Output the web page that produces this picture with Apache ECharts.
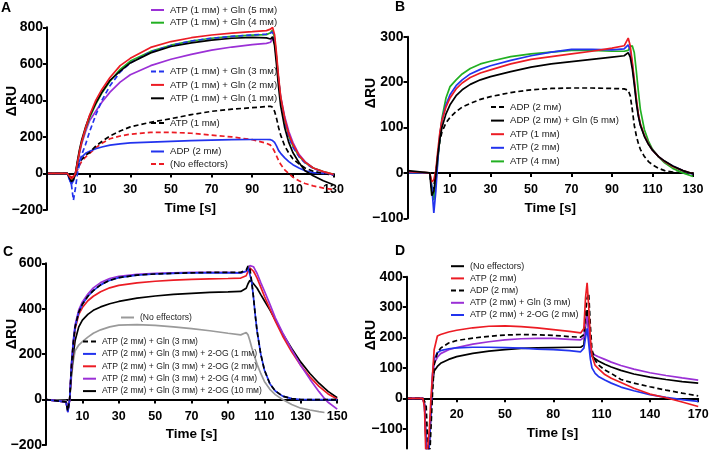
<!DOCTYPE html>
<html><head><meta charset="utf-8">
<script src="https://cdn.jsdelivr.net/npm/echarts@6/dist/echarts.min.js"></script>
<style>html,body{margin:0;padding:0;background:#fff}#c{width:709px;height:450px}</style>
</head><body><div id="c"></div>
<script>
// ---------- Panel A ----------
const tA = [-11,-1,1,2,3,4,5,6,8,10,13,16,20,25,30,40,50,60,70,80,90,97,99,100,101,102,103,104,106,108,110,113,116,120,125,130];
const A_gln5 = [0,0,-40,-30,0,55,110,160,230,290,340,390,445,500,540,590,625,652,675,692,705,712,718,740,720,620,510,420,310,230,170,105,65,30,8,-8];
const A_gln4 = [0,0,-40,-30,0,60,120,170,245,305,380,440,505,570,615,668,702,725,740,750,757,760,770,785,740,630,510,410,290,205,150,95,60,30,10,-5];
const A_gln3 = [0,0,-60,-146,-80,0,50,100,160,230,320,400,480,555,605,665,700,725,740,750,758,763,768,775,735,625,505,405,285,200,145,92,58,28,8,-8];
const A_gln2 = [0,0,-30,-20,0,60,120,170,250,320,400,460,525,590,630,690,722,743,758,768,776,782,790,800,760,650,525,420,300,215,160,100,62,30,10,-5];
const A_gln1 = [0,0,-45,-35,0,70,130,180,255,315,385,445,510,560,605,660,695,715,730,740,745,742,736,748,700,590,470,370,250,170,115,60,15,-12,-40,-62];
const A_atp1 = [0,0,-30,-20,0,30,55,75,100,115,150,175,205,232,255,280,300,322,340,352,360,366,368,362,340,300,250,210,150,112,80,52,30,12,0,-10];
const A_adp  = [0,0,-60,-40,0,40,70,90,110,122,135,145,155,162,167,172,176,180,183,185,186,186,185,180,170,150,125,110,85,65,48,30,15,5,0,-5];
const A_none = [0,0,-20,-15,-5,20,45,65,90,110,140,165,190,205,215,225,225,220,210,200,185,165,155,140,120,95,70,50,20,0,-20,-40,-55,-68,-80,-88];
const xTicksA = [10,30,50,70,90,110,130];
const yTicksA = [-200,0,200,400,600,800];

// ---------- Panel B ----------
const tB = [-11,0,1,2,3,4,5,6,8,10,13,16,20,25,30,40,50,60,70,80,90,96,98,99,100,101,102,103,104,106,108,110,113,116,120,125,130];
const B_adp    = [3,0,-40,-30,0,40,70,90,110,122,135,145,153,162,168,177,183,186,187,187,186,185,182,170,140,105,82,65,52,36,25,18,10,5,2,0,-3];
const B_adpgln = [5,0,-50,-40,-5,40,75,100,130,150,170,183,195,205,212,223,233,240,245,250,255,258,265,255,230,195,155,125,105,80,63,50,36,26,15,5,-2];
const B_atp1   = [3,0,-20,-15,5,50,90,115,145,165,185,198,210,220,227,240,250,256,262,268,275,280,297,280,245,205,165,130,108,82,64,50,36,25,14,5,-2];
const B_atp2   = [0,0,-30,-88,-40,30,85,115,150,172,192,205,218,228,236,248,258,266,272,272,271,273,282,270,240,200,160,128,106,82,64,50,36,25,15,5,-3];
const B_atp4   = [0,0,-30,-60,-20,30,80,120,165,190,205,218,230,240,246,256,262,266,270,270,268,268,270,278,280,265,225,180,140,95,70,52,35,22,10,0,-8];
const xTicksB = [10,30,50,70,90,110,130];
const yTicksB = [-100,0,100,200,300];

// ---------- Panel C ----------
const tC = [-10,1,2,3,4,5,6,8,10,13,16,20,25,30,40,50,60,70,80,90,97,100,101,102,103,104,105,106,108,110,113,116,120,125,130,135,140,143,145,150];
const C_gln  = [0,-10,-50,0,150,250,320,385,420,455,480,505,525,537,548,553,556,558,560,560,560,570,588,578,520,450,370,300,200,130,70,38,15,4,0,0,0,0,0,0];
const C_og1  = [0,-10,-55,0,150,250,320,385,420,455,480,505,525,537,548,553,556,558,558,558,558,565,582,575,520,450,370,300,200,130,70,38,15,4,0,0,0,0,0,0];
const C_og2  = [0,-10,-45,0,140,240,310,375,405,435,455,475,492,503,514,521,526,529,531,533,535,545,565,580,575,565,550,535,495,455,400,345,280,210,150,100,58,38,25,3];
const C_og4  = [0,-10,-55,0,160,260,330,395,430,465,492,515,533,543,551,556,558,560,560,560,558,565,575,590,595,585,570,555,515,478,420,360,295,220,150,90,35,5,-12,-42];
const C_og10 = [0,-10,-45,0,120,200,260,320,350,375,393,408,422,432,447,456,463,468,472,474,476,490,510,525,520,510,500,490,462,435,395,350,290,225,165,115,72,50,36,8];
const C_none = [0,-5,-30,0,100,170,215,240,255,275,292,307,320,328,330,327,320,312,303,292,285,295,285,260,230,205,180,155,115,80,45,22,0,-22,-38,-46,-53,-57,null,null];
const xTicksC = [10,30,50,70,90,110,130,150];
const yTicksC = [-200,0,200,400,600];

// ---------- Panel D ----------
const tD = [-11,-1,0,1,2,3,4,5,6,8,10,15,20,30,40,50,60,70,80,90,97,99,100,101,102,103,104,106,108,112,116,122,130,140,150,160,170];
const D_none = [0,0,-20,-150,-220,-150,-40,50,90,105,115,128,137,148,155,160,164,166,167,168,168,175,240,290,230,160,140,130,123,112,103,92,80,70,62,55,50];
const D_atp  = [0,0,-30,-220,-220,-100,0,80,160,205,210,218,224,232,237,238,236,232,226,220,215,230,330,380,300,200,140,108,98,78,66,52,33,14,2,-12,-27];
const D_adp  = [0,0,0,-20,-150,-220,-100,20,110,150,165,182,190,198,204,208,210,209,207,203,201,210,280,330,345,240,160,125,110,93,82,62,50,38,27,17,8];
const D_gln  = [0,0,-20,-150,-220,-150,-40,70,115,135,147,160,167,178,186,192,196,197,197,194,192,200,250,270,210,165,150,142,137,128,119,108,96,84,75,67,60];
const D_og   = [0,0,-20,-150,-220,-150,-40,80,130,150,157,163,166,168,168,167,165,162,160,157,153,165,200,230,180,130,100,82,72,60,50,37,25,12,3,-4,-10];
const xTicksD = [20,50,80,110,140,170];
const yTicksD = [-100,0,100,200,300,400];

// ---------- names ----------
const M = 'm\u1D0D';
const nA = {
  gln5: 'A|ATP (1 '+M+') + Gln (5 '+M+')', gln4: 'A|ATP (1 '+M+') + Gln (4 '+M+')',
  gln3: 'A|ATP (1 '+M+') + Gln (3 '+M+')', gln2: 'A|ATP (1 '+M+') + Gln (2 '+M+')',
  gln1: 'A|ATP (1 '+M+') + Gln (1 '+M+')', atp1: 'A|ATP (1 '+M+')',
  adp: 'A|ADP (2 '+M+')', none: 'A|(No effectors)'
};
const nB = {
  adp: 'B|ADP (2 '+M+')', adpgln: 'B|ADP (2 '+M+') + Gln (5 '+M+')',
  atp1: 'B|ATP (1 '+M+')', atp2: 'B|ATP (2 '+M+')', atp4: 'B|ATP (4 '+M+')'
};
const nC = {
  none: 'C|(No effectors)', gln: 'C|ATP (2 '+M+') + Gln (3 '+M+')',
  og1: 'C|ATP (2 '+M+') + Gln (3 '+M+') + 2-OG (1 '+M+')',
  og2: 'C|ATP (2 '+M+') + Gln (3 '+M+') + 2-OG (2 '+M+')',
  og4: 'C|ATP (2 '+M+') + Gln (3 '+M+') + 2-OG (4 '+M+')',
  og10: 'C|ATP (2 '+M+') + Gln (3 '+M+') + 2-OG (10 '+M+')'
};
const nD = {
  none: 'D|(No effectors)', atp: 'D|ATP (2 '+M+')', adp: 'D|ADP (2 '+M+')',
  gln: 'D|ATP (2 '+M+') + Gln (3 '+M+')', og: 'D|ATP (2 '+M+') + 2-OG (2 '+M+')'
};

const RED = '#ec1c24', BLUE = '#2233ee', PURPLE = '#9b30d6', GREEN = '#22b022', BLACK = '#000000', GRAY = '#9a9a9a';
const FONT = '"Liberation Sans", Arial, "DejaVu Sans", sans-serif';
const YLABEL_SIZE = 14, YLABEL_MARGIN = 4;
const fmtY = v => (v < 0 ? '\u2212' + Math.abs(v) : String(v));

function ser(idx, name, t, v, color, dashed) {
  return {
    type: 'line', name: name, xAxisIndex: idx, yAxisIndex: idx,
    data: t.map((x, i) => [x, v[i]]),
    symbol: 'none', showSymbol: false, silent: true, animation: false, clip: true,
    lineStyle: { color: color, width: 1.7, type: dashed ? [5, 3] : 'solid' },
    itemStyle: { color: color }
  };
}

const grids = [
  { left: 47, top: 27.3, width: 286.5, height: 182.7 },
  { left: 407.5, top: 36.7, width: 285.5, height: 181.6 },
  { left: 46, top: 263.3, width: 291.2, height: 181.7 },
  { left: 406.8, top: 276.7, width: 291.4, height: 171.8 }
].map(g => Object.assign(g, { outerBoundsMode: 'none', containLabel: false }));
const xr = [[-11,130,xTicksA],[-11,130,xTicksB],[-10,150,xTicksC],[-11,170,xTicksD]];
const yr = [[-200,800,yTicksA],[-100,300,yTicksB],[-200,600,yTicksC],[-165,400,yTicksD]];

const axLine = { show: true, onZero: false, lineStyle: { color: '#000', width: 2 } };
const xAxes = xr.map((r, i) => ({
  type: 'value', gridIndex: i, min: r[0], max: r[1],
  position: 'bottom',
  // put the time axis on the zero line of the response axis
  offset: -grids[i].height * (0 - yr[i][0]) / (yr[i][1] - yr[i][0]),
  axisLine: axLine,
  axisTick: { show: true, length: 4, lineStyle: { color: '#000', width: 2 }, customValues: r[2] },
  axisLabel: { customValues: r[2], color: '#000', fontWeight: 'bold', fontSize: 12.5, margin: 10, fontFamily: FONT,
    showMinLabel: true, showMaxLabel: true },
  splitLine: { show: false },
  name: 'Time [s]', nameLocation: 'middle', nameGap: 28,
  nameTextStyle: { color: '#000', fontWeight: 'bold', fontSize: 13.5, fontFamily: FONT }
}));
const yAxes = yr.map((r, i) => ({
  type: 'value', gridIndex: i, min: r[0], max: r[1], z: 20,
  axisLine: axLine,
  axisTick: { show: true, length: 4, lineStyle: { color: '#000', width: 2 }, customValues: r[2] },
  axisLabel: { customValues: r[2], color: '#000', fontWeight: 'bold', fontSize: YLABEL_SIZE, margin: YLABEL_MARGIN,
    fontFamily: FONT, showMinLabel: true, showMaxLabel: true, formatter: fmtY },
  splitLine: { show: false }
}));

function lg(names, left, top, fontSize, gap) {
  return {
    data: names, left: left, top: top, orient: 'vertical', padding: 0,
    itemWidth: 13, itemHeight: 8, itemGap: gap, selectedMode: false,
    itemStyle: { opacity: 0 },
    formatter: n => n.split('|')[1],
    textStyle: { fontSize: fontSize, color: '#222', fontFamily: FONT, padding: [0, 0, 0, 1] }
  };
}

const series = [
  ser(0, nA.none, tA, A_none, RED, true),
  ser(0, nA.adp, tA, A_adp, BLUE, false),
  ser(0, nA.atp1, tA, A_atp1, BLACK, true),
  ser(0, nA.gln5, tA, A_gln5, PURPLE, false),
  ser(0, nA.gln4, tA, A_gln4, GREEN, false),
  ser(0, nA.gln3, tA, A_gln3, BLUE, true),
  ser(0, nA.gln1, tA, A_gln1, BLACK, false),
  ser(0, nA.gln2, tA, A_gln2, RED, false),

  ser(1, nB.adp, tB, B_adp, BLACK, true),
  ser(1, nB.atp4, tB, B_atp4, GREEN, false),
  ser(1, nB.atp2, tB, B_atp2, BLUE, false),
  ser(1, nB.atp1, tB, B_atp1, RED, false),
  ser(1, nB.adpgln, tB, B_adpgln, BLACK, false),

  ser(2, nC.none, tC, C_none, GRAY, false),
  ser(2, nC.og10, tC, C_og10, BLACK, false),
  ser(2, nC.og2, tC, C_og2, RED, false),
  ser(2, nC.og4, tC, C_og4, PURPLE, false),
  ser(2, nC.og1, tC, C_og1, BLUE, false),
  ser(2, nC.gln, tC, C_gln, BLACK, true),

  ser(3, nD.none, tD, D_none, BLACK, false),
  ser(3, nD.gln, tD, D_gln, PURPLE, false),
  ser(3, nD.og, tD, D_og, BLUE, false),
  ser(3, nD.adp, tD, D_adp, BLACK, true),
  ser(3, nD.atp, tD, D_atp, RED, false)
];

const legends = [
  lg([nA.gln5, nA.gln4], 150, 5, 9.6, 2.7),
  lg([nA.gln3, nA.gln2, nA.gln1], 150, 66.5, 9.6, 3.4),
  lg([nA.atp1], 150, 118, 9.6, 3),
  lg([nA.adp, nA.none], 150, 146.5, 9.6, 2.6),
  lg([nB.adp, nB.adpgln, nB.atp1, nB.atp2, nB.atp4], 490, 102, 9.6, 3.6),
  lg([nC.none], 120, 313, 8.6, 3),
  lg([nC.gln, nC.og1, nC.og2, nC.og4, nC.og10], 82, 337, 8.6, 3.4),
  lg([nD.none, nD.atp, nD.adp, nD.gln, nD.og], 450, 261.7, 9, 3.2)
];

function txt(x, y, s, size, rot, align, z) {
  return { type: 'text', x: x, y: y, rotation: rot || 0, silent: true, z: z || 10,
    style: { text: s, fill: '#000', font: 'bold ' + size + 'px ' + FONT, textAlign: align || 'center', textVerticalAlign: 'middle' } };
}

const graphics = [
  txt(6, 8, 'A', 14), txt(400, 7, 'B', 14), txt(8, 252, 'C', 14), txt(400, 251.5, 'D', 14),
  txt(12, 101, '\u0394RU', 14, Math.PI / 2), txt(371, 93, '\u0394RU', 14, Math.PI / 2),
  txt(12, 334, '\u0394RU', 14, Math.PI / 2), txt(371, 335, '\u0394RU', 14, Math.PI / 2)
];

const chart = echarts.init(document.getElementById('c'), null, { renderer: 'canvas' });
chart.setOption({
  animation: false,
  backgroundColor: '#fff',
  textStyle: { fontFamily: FONT },
  grid: grids,
  xAxis: xAxes,
  yAxis: yAxes,
  legend: legends,
  series: series,
  graphic: graphics
});

// Safety net: look at the painted pixels; if a response-axis tick label did not
// appear, paint that label as text at the position the axis itself gives.
(function restoreMissingYLabels() {
  try { chart.getZr().flush(); } catch (e) {}
  const cvs = chart.getDom().querySelector('canvas');
  if (!cvs) return;
  const ctx = cvs.getContext('2d');
  const ratio = cvs.width / chart.getWidth();
  function hasInk(x0, y0, w, h) {
    const d = ctx.getImageData(Math.round(x0 * ratio), Math.round(y0 * ratio),
      Math.max(1, Math.round(w * ratio)), Math.max(1, Math.round(h * ratio))).data;
    for (let k = 0; k < d.length; k += 4) {
      if (d[k + 3] > 0 && d[k] < 110 && d[k + 1] < 110 && d[k + 2] < 110) return true;
    }
    return false;
  }
  const extra = [];
  yr.forEach((r, i) => {
    r[2].forEach(v => {
      const p = chart.convertToPixel({ gridIndex: i }, [xr[i][0], v]);
      const lx = p[0] - YLABEL_MARGIN, ly = p[1];
      // every label ends in the digit 0: sample inside that last glyph
      if (!hasInk(lx - 8, ly - 4, 7, 8)) extra.push(txt(lx, ly, fmtY(v), YLABEL_SIZE, 0, 'right', 100));
    });
  });
  if (extra.length) chart.setOption({ graphic: graphics.concat(extra) }, { replaceMerge: ['graphic'] });
})();
</script>
</body></html>
